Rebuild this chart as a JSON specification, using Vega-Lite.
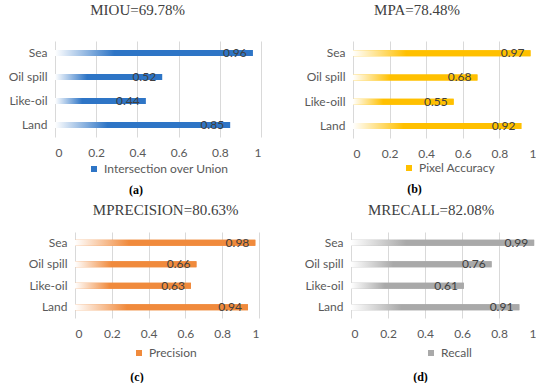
{
  "$schema": "https://vega.github.io/schema/vega-lite/v6.json",
  "background": "white",
  "padding": {"left": 8, "top": 3, "right": 0, "bottom": 0},
  "config": {
    "view": {"stroke": null},
    "axisX": {"grid": true, "gridColor": "#d9d9d9", "domain": false, "ticks": false, "labelFont": "Lato", "labelFontSize": 12, "labelColor": "#595959", "values": [0, 0.2, 0.4, 0.6, 0.8, 1], "format": "~g", "title": null, "labelPadding": 10},
    "axisY": {"grid": false, "domain": false, "ticks": false, "labelFont": "Lato", "labelFontSize": 12, "labelColor": "#595959", "title": null, "labelPadding": 8},
    "legend": {"orient": "none", "title": null, "symbolType": "square", "symbolSize": 36, "labelFont": "Lato", "labelFontSize": 12, "labelColor": "#595959", "padding": 0},
    "title": {"font": "Liberation Serif", "fontSize": 15, "fontWeight": "normal", "color": "#404040", "anchor": "middle"}
  },
  "columns": 2,
  "align": "none",
  "spacing": {"row": 7, "column": 43},
  "resolve": {"scale": {"color": "independent"}, "legend": {"color": "independent"}},
  "concat": [
    {
      "title": {"text": "MIOU=69.78%", "offset": 23, "dx": 3},
      "resolve": {"scale": {"color": "independent"}, "legend": {"color": "independent"}},
      "vconcat": [
        {
          "width": 206, "height": 96,
          "title": {"text": "(a)", "orient": "bottom", "font": "Liberation Serif", "fontSize": 12, "fontWeight": "bold", "color": "#000000", "offset": 10, "dx": -22},
          "data": {"values": [
            {"cls": "Sea", "v": 0.96},
            {"cls": "Oil spill", "v": 0.52},
            {"cls": "Like-oil", "v": 0.44},
            {"cls": "Land", "v": 0.85}
          ]},
          "encoding": {
            "y": {"field": "cls", "type": "nominal", "sort": null},
            "x": {"field": "v", "type": "quantitative", "scale": {"domain": [0, 1]}}
          },
          "layer": [
            {"mark": {"type": "bar", "height": 6}, "encoding": {"color": {"datum": "Intersection over Union", "type": "nominal", "scale": {"range": ["#2E75C6"]}, "legend": {"legendX": 33, "legendY": 122}}}},
            {"mark": {"type": "bar", "height": 6, "color": {"gradient": "linear", "x1": 0, "x2": 1, "y1": 0, "y2": 0, "stops": [{"offset": 0, "color": "#ffffff"}, {"offset": 0.3, "color": "#2E75C6"}]}}},
            {"mark": {"type": "text", "align": "right", "dx": -6, "font": "Lato", "fontSize": 12, "color": "#404040"}, "encoding": {"text": {"field": "v", "type": "quantitative", "format": ".2f"}}}
          ]
        }
      ]
    },
    {
      "title": {"text": "MPA=78.48%", "offset": 23, "dx": -3},
      "resolve": {"scale": {"color": "independent"}, "legend": {"color": "independent"}},
      "vconcat": [
        {
          "width": 183, "height": 97,
          "title": {"text": "(b)", "orient": "bottom", "font": "Liberation Serif", "fontSize": 12, "fontWeight": "bold", "color": "#000000", "offset": 10, "dx": -30},
          "data": {"values": [
            {"cls": "Sea", "v": 0.97},
            {"cls": "Oil spill", "v": 0.68},
            {"cls": "Like-oill", "v": 0.55},
            {"cls": "Land", "v": 0.92}
          ]},
          "encoding": {
            "y": {"field": "cls", "type": "nominal", "sort": null},
            "x": {"field": "v", "type": "quantitative", "scale": {"domain": [0, 1]}}
          },
          "layer": [
            {"mark": {"type": "bar", "height": 6}, "encoding": {"color": {"datum": "Pixel Accuracy", "type": "nominal", "scale": {"range": ["#FFC000"]}, "legend": {"legendX": 50, "legendY": 121}}}},
            {"mark": {"type": "bar", "height": 6, "color": {"gradient": "linear", "x1": 0, "x2": 1, "y1": 0, "y2": 0, "stops": [{"offset": 0, "color": "#ffffff"}, {"offset": 0.3, "color": "#FFC000"}]}}},
            {"mark": {"type": "text", "align": "right", "dx": -6, "font": "Lato", "fontSize": 12, "color": "#404040"}, "encoding": {"text": {"field": "v", "type": "quantitative", "format": ".2f"}}}
          ]
        }
      ]
    },
    {
      "title": {"text": "MPRECISION=80.63%", "offset": 14, "dx": 22},
      "resolve": {"scale": {"color": "independent"}, "legend": {"color": "independent"}},
      "vconcat": [
        {
          "width": 204, "height": 86,
          "title": {"text": "(c)", "orient": "bottom", "font": "Liberation Serif", "fontSize": 12, "fontWeight": "bold", "color": "#000000", "offset": 13, "dx": -20},
          "data": {"values": [
            {"cls": "Sea", "v": 0.98},
            {"cls": "Oil spill", "v": 0.66},
            {"cls": "Like-oil", "v": 0.63},
            {"cls": "Land", "v": 0.94}
          ]},
          "encoding": {
            "y": {"field": "cls", "type": "nominal", "sort": null, "axis": {"offset": -20}},
            "x": {"field": "v", "type": "quantitative", "scale": {"domain": [0, 1], "range": [20, 204]}, "axis": {"labelPadding": 10}}
          },
          "layer": [
            {"mark": {"type": "bar", "height": 6}, "encoding": {"color": {"datum": "Precision", "type": "nominal", "scale": {"range": ["#F08A3C"]}, "legend": {"legendX": 78, "legendY": 115}}}},
            {"mark": {"type": "bar", "height": 6, "color": {"gradient": "linear", "x1": 0, "x2": 1, "y1": 0, "y2": 0, "stops": [{"offset": 0, "color": "#ffffff"}, {"offset": 0.3, "color": "#F08A3C"}]}}},
            {"mark": {"type": "text", "align": "right", "dx": -6, "font": "Lato", "fontSize": 12, "color": "#404040"}, "encoding": {"text": {"field": "v", "type": "quantitative", "format": ".2f"}}}
          ]
        }
      ]
    },
    {
      "title": {"text": "MRECALL=82.08%", "offset": 14, "dx": 11},
      "resolve": {"scale": {"color": "independent"}, "legend": {"color": "independent"}},
      "vconcat": [
        {
          "width": 185, "height": 86,
          "title": {"text": "(d)", "orient": "bottom", "font": "Liberation Serif", "fontSize": 12, "fontWeight": "bold", "color": "#000000", "offset": 13, "dx": -23},
          "data": {"values": [
            {"cls": "Sea", "v": 0.99},
            {"cls": "Oil spill", "v": 0.76},
            {"cls": "Like-oil", "v": 0.61},
            {"cls": "Land", "v": 0.91}
          ]},
          "encoding": {
            "y": {"field": "cls", "type": "nominal", "sort": null},
            "x": {"field": "v", "type": "quantitative", "scale": {"domain": [0, 1]}, "axis": {"labelPadding": 10}}
          },
          "layer": [
            {"mark": {"type": "bar", "height": 6}, "encoding": {"color": {"datum": "Recall", "type": "nominal", "scale": {"range": ["#A9A9A9"]}, "legend": {"legendX": 74, "legendY": 115}}}},
            {"mark": {"type": "bar", "height": 6, "color": {"gradient": "linear", "x1": 0, "x2": 1, "y1": 0, "y2": 0, "stops": [{"offset": 0, "color": "#ffffff"}, {"offset": 0.3, "color": "#A9A9A9"}]}}},
            {"mark": {"type": "text", "align": "right", "dx": -6, "font": "Lato", "fontSize": 12, "color": "#404040"}, "encoding": {"text": {"field": "v", "type": "quantitative", "format": ".2f"}}}
          ]
        }
      ]
    }
  ]
}
